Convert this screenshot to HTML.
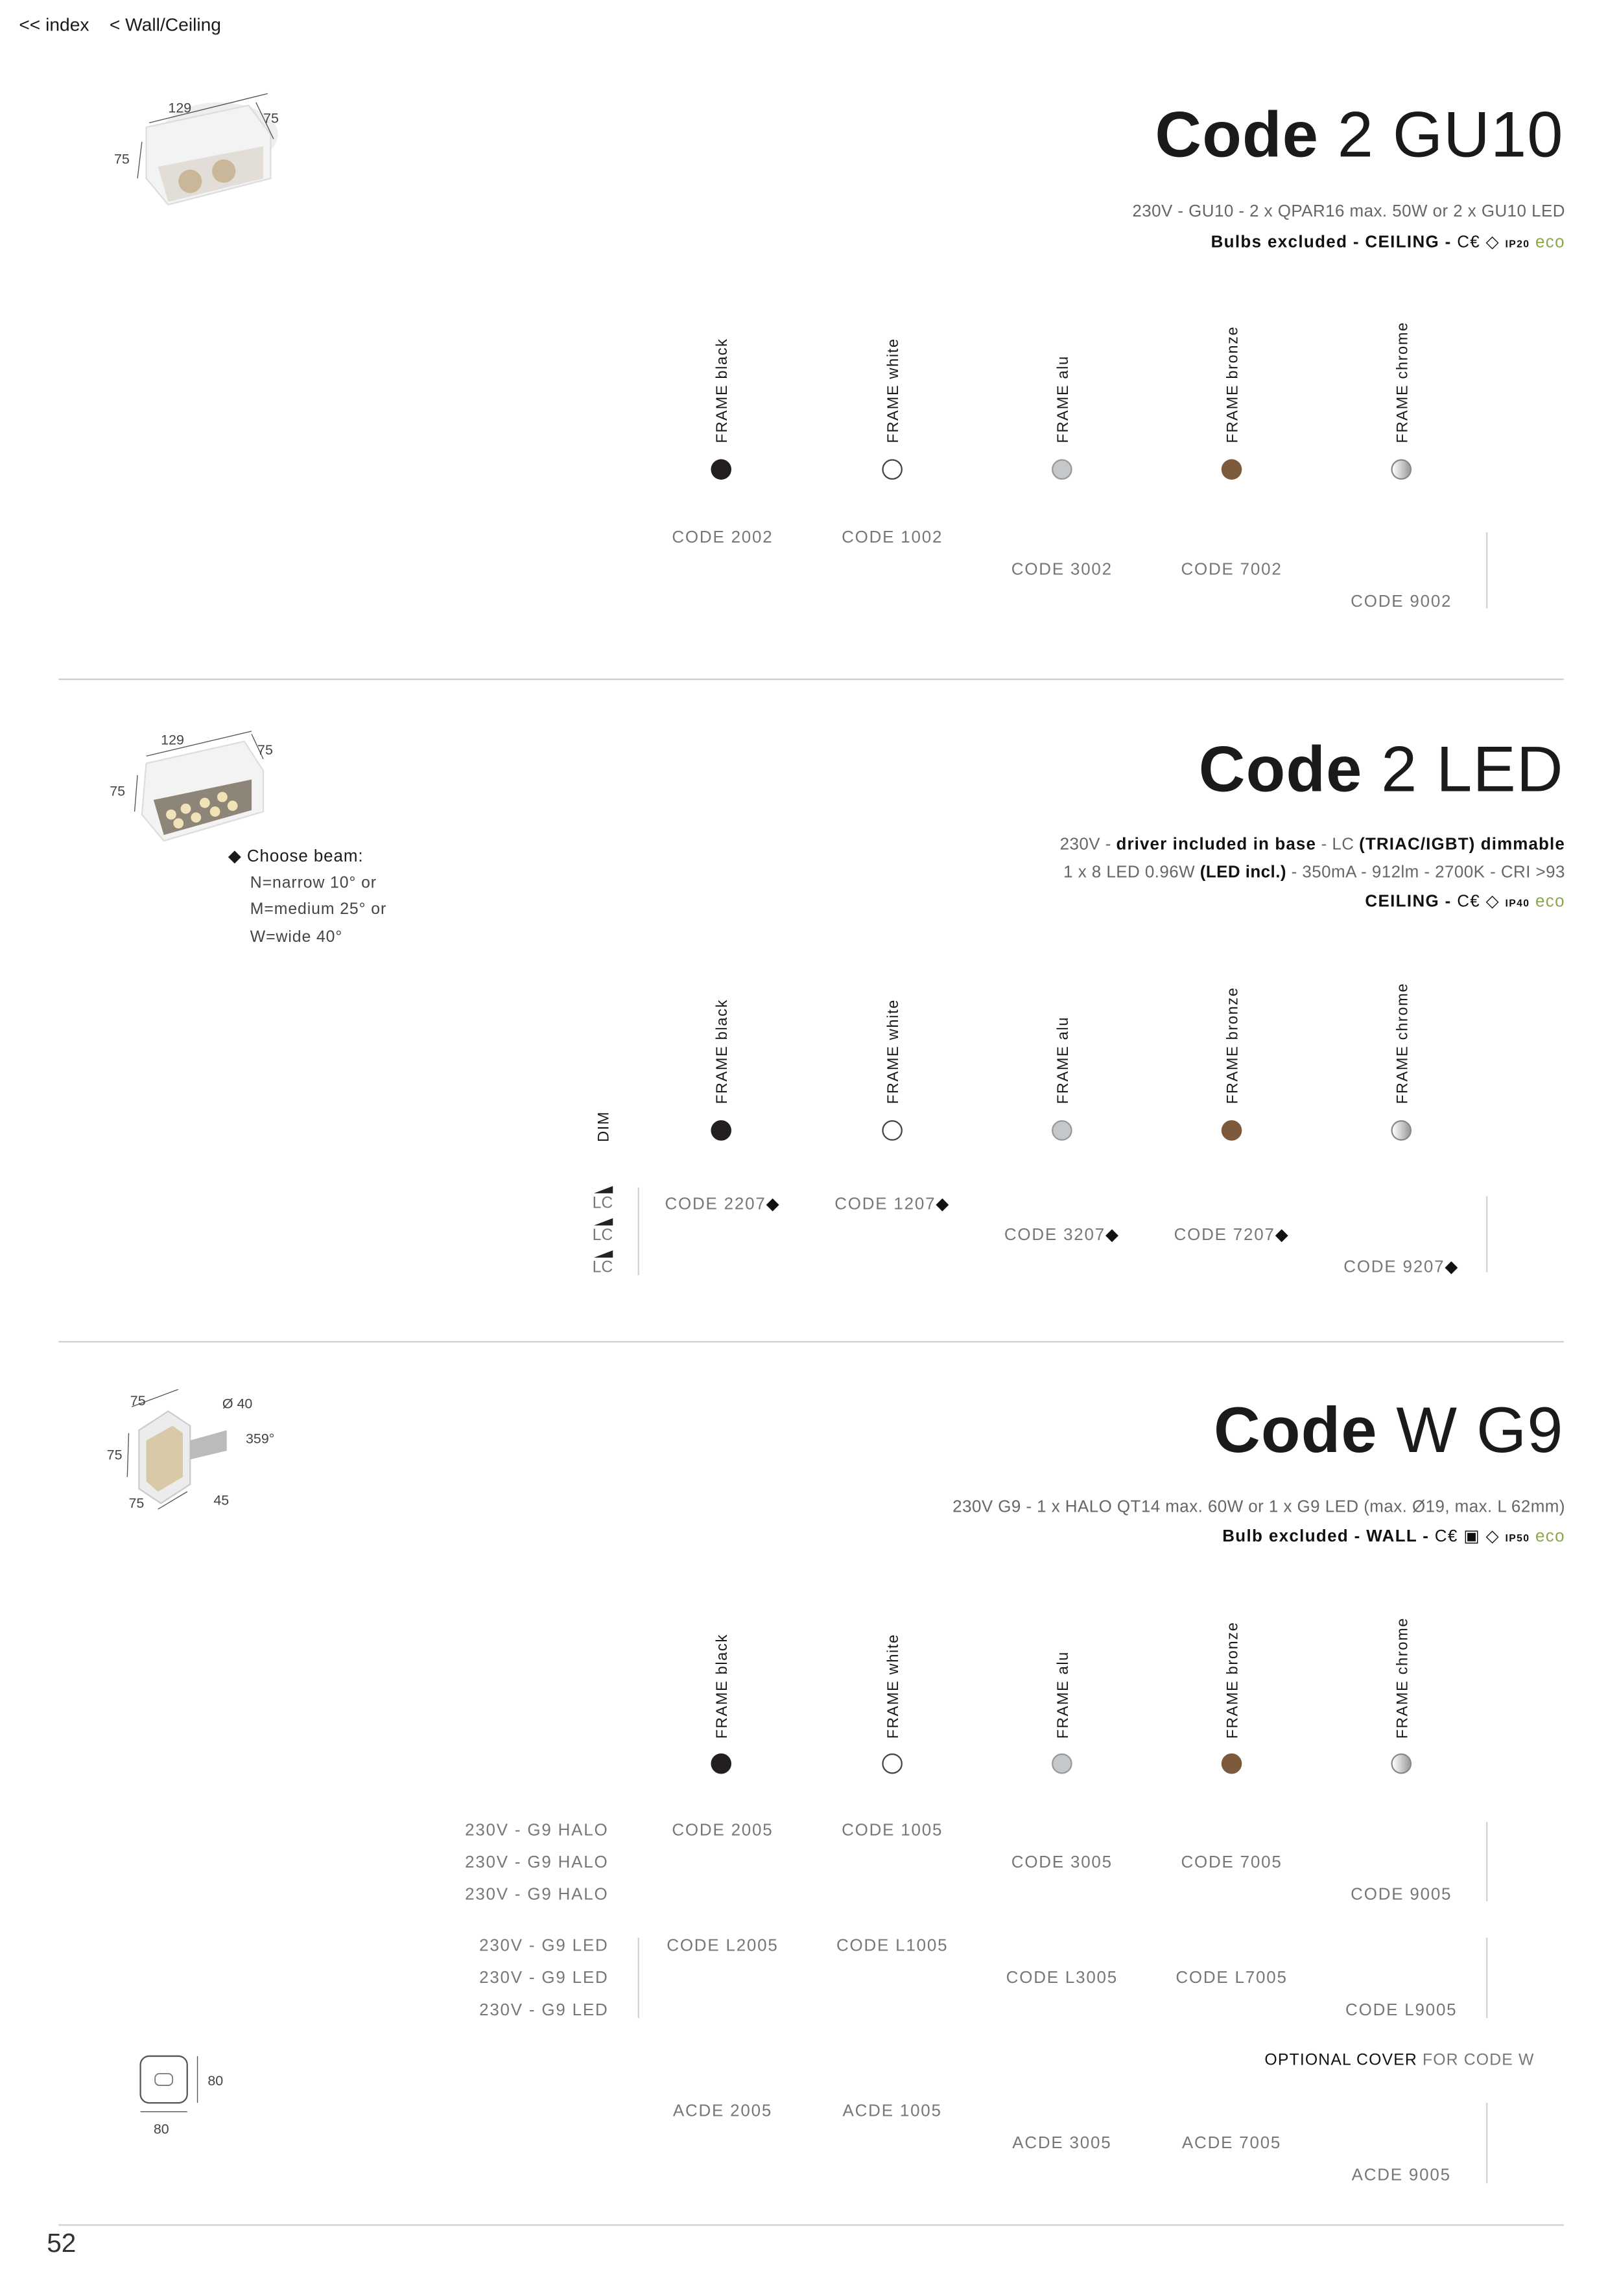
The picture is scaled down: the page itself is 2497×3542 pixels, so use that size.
<!DOCTYPE html>
<html><head><meta charset="utf-8"><style>
html,body{margin:0;padding:0;background:#fff}
body{width:2497px;height:3532px;overflow:hidden;position:relative}
#p{position:absolute;left:0;top:0;width:1110px;height:1570px;transform:scale(2.256);transform-origin:0 0;font-family:"Liberation Sans",sans-serif;color:#1a1a1a}
.a{position:absolute;white-space:nowrap}
.c{transform:translate(-50%,-50%)}
.r{transform:translate(-100%,-50%);text-align:right}
.code{font-size:11.5px;color:#777;letter-spacing:.8px}
.fr{position:absolute;font-size:10.5px;letter-spacing:.7px;transform-origin:0 0;transform:rotate(-90deg);white-space:nowrap}
.dot{position:absolute;width:14px;height:14px;border-radius:50%;transform:translate(-50%,-50%);box-sizing:border-box}
.hr{position:absolute;left:40px;width:1029px;height:1px;background:#cfcfcf}
.vl{position:absolute;width:1px;background:#d0d0d0}
.t{font-size:44px;letter-spacing:.5px}
.t b{font-weight:bold}
.sp{font-size:11.5px;color:#666;letter-spacing:.2px}
.sb{font-size:11.5px;font-weight:bold;color:#111;letter-spacing:.6px}
.g{font-size:10px;color:#444}
</style></head><body><div id="p">
<div class="a" style="left:13px;top:10px;font-size:12.5px">&lt;&lt; index &nbsp;&nbsp; &lt; Wall/Ceiling</div>

<svg class="a" style="left:75px;top:62px" width="125" height="95">
<ellipse cx="75" cy="30" rx="40" ry="22" fill="#eee"/>
<path d="M25 25 L95 10 L110 30 L110 60 L40 78 L25 60Z" fill="#f3f3f3" stroke="#ddd"/>
<path d="M33 52 L105 38 L105 60 L40 76Z" fill="#e2ddd6"/>
<circle cx="55" cy="62" r="8" fill="#c9b79a"/><circle cx="78" cy="55" r="8" fill="#c9b79a"/>
<line x1="27" y1="22" x2="108" y2="2" stroke="#555" stroke-width=".6"/>
<line x1="100" y1="8" x2="112" y2="33" stroke="#555" stroke-width=".6"/>
<line x1="22" y1="35" x2="19" y2="60" stroke="#555" stroke-width=".6"/>
<text x="40" y="15" font-size="9.5" fill="#444" font-family="Liberation Sans">129</text>
<text x="105" y="22" font-size="9.5" fill="#444" font-family="Liberation Sans">75</text>
<text x="3" y="50" font-size="9.5" fill="#444" font-family="Liberation Sans">75</text>
</svg>

<div class="a t" style="right:41px;top:68px"><b>Code</b> 2 GU10</div>
<div class="a sp" style="right:40px;top:139px">230V - GU10 - 2 x QPAR16 max. 50W or 2 x GU10 LED</div>
<div class="a sb" style="right:40px;top:158px">Bulbs excluded - CEILING - <span style="font-weight:normal">C€ ◇</span> <span style="font-size:7px">IP20</span> <span style="color:#8aa84a;font-weight:normal">eco</span></div>

<div class="fr" style="left:488px;top:303px">FRAME black</div>
<div class="fr" style="left:605px;top:303px">FRAME white</div>
<div class="fr" style="left:721px;top:303px">FRAME alu</div>
<div class="fr" style="left:837px;top:303px">FRAME bronze</div>
<div class="fr" style="left:953px;top:303px">FRAME chrome</div>
<div class="dot" style="left:493px;top:321px;background:#231f20"></div>
<div class="dot" style="left:610px;top:321px;border:1px solid #444"></div>
<div class="dot" style="left:726px;top:321px;background:#c5c8cb;border:1px solid #999"></div>
<div class="dot" style="left:842px;top:321px;background:#7d5a3c"></div>
<div class="dot" style="left:958px;top:321px;background:linear-gradient(90deg,#fff,#999);border:1px solid #888"></div>

<div class="a c code" style="left:494px;top:368px">CODE 2002</div>
<div class="a c code" style="left:610px;top:368px">CODE 1002</div>
<div class="a c code" style="left:726px;top:390px">CODE 3002</div>
<div class="a c code" style="left:842px;top:390px">CODE 7002</div>
<div class="a c code" style="left:958px;top:412px">CODE 9002</div>
<div class="vl" style="left:1016px;top:364px;height:52px"></div>
<div class="hr" style="top:464px"></div>

<svg class="a" style="left:72px;top:497px" width="125" height="90">
<path d="M28 25 L95 10 L108 30 L108 58 L40 78 L25 60Z" fill="#f3f3f3" stroke="#ddd"/>
<path d="M33 50 L100 36 L100 57 L40 74Z" fill="#8d8577"/>
<g fill="#f1e2b8"><circle cx="45" cy="60" r="3.5"/><circle cx="55" cy="56" r="3.5"/><circle cx="68" cy="52" r="3.5"/><circle cx="80" cy="48" r="3.5"/><circle cx="50" cy="66" r="3.5"/><circle cx="62" cy="62" r="3.5"/><circle cx="75" cy="58" r="3.5"/><circle cx="87" cy="54" r="3.5"/></g>
<line x1="28" y1="20" x2="100" y2="3" stroke="#555" stroke-width=".6"/>
<line x1="100" y1="5" x2="108" y2="22" stroke="#555" stroke-width=".6"/>
<line x1="22" y1="33" x2="20" y2="58" stroke="#555" stroke-width=".6"/>
<text x="38" y="12" font-size="9.5" fill="#444" font-family="Liberation Sans">129</text>
<text x="104" y="19" font-size="9.5" fill="#444" font-family="Liberation Sans">75</text>
<text x="3" y="47" font-size="9.5" fill="#444" font-family="Liberation Sans">75</text>
</svg>
<div class="a" style="left:156px;top:578px;font-size:11.5px;letter-spacing:.4px">◆ Choose beam:</div>
<div class="a g" style="left:171px;top:598px;font-size:11px;letter-spacing:.4px">N=narrow 10° or</div>
<div class="a g" style="left:171px;top:616px;font-size:11px;letter-spacing:.4px">M=medium 25° or</div>
<div class="a g" style="left:171px;top:635px;font-size:11px;letter-spacing:.4px">W=wide 40°</div>

<div class="a t" style="right:41px;top:502px"><b>Code</b> 2 LED</div>
<div class="a sp" style="right:40px;top:572px">230V - <b style="color:#111;letter-spacing:.5px">driver included in base</b> - LC <b style="color:#111;letter-spacing:.5px">(TRIAC/IGBT) dimmable</b></div>
<div class="a sp" style="right:40px;top:591px">1 x 8 LED 0.96W <b style="color:#111">(LED incl.)</b> - 350mA - 912lm - 2700K - CRI &gt;93</div>
<div class="a sb" style="right:40px;top:609px">CEILING - <span style="font-weight:normal">C€ ◇</span> <span style="font-size:7px">IP40</span> <span style="color:#8aa84a;font-weight:normal">eco</span></div>

<div class="fr" style="left:407px;top:781px">DIM</div>
<div class="fr" style="left:488px;top:755px">FRAME black</div>
<div class="fr" style="left:605px;top:755px">FRAME white</div>
<div class="fr" style="left:721px;top:755px">FRAME alu</div>
<div class="fr" style="left:837px;top:755px">FRAME bronze</div>
<div class="fr" style="left:953px;top:755px">FRAME chrome</div>
<div class="dot" style="left:493px;top:773px;background:#231f20"></div>
<div class="dot" style="left:610px;top:773px;border:1px solid #444"></div>
<div class="dot" style="left:726px;top:773px;background:#c5c8cb;border:1px solid #999"></div>
<div class="dot" style="left:842px;top:773px;background:#7d5a3c"></div>
<div class="dot" style="left:958px;top:773px;background:linear-gradient(90deg,#fff,#999);border:1px solid #888"></div>

<div class="a" style="left:406px;top:811px;width:0;height:0;border-left:13px solid transparent;border-bottom:5px solid #222"></div>
<div class="a c code" style="left:412px;top:823px;font-size:11px;letter-spacing:0">LC</div>
<div class="a" style="left:406px;top:833px;width:0;height:0;border-left:13px solid transparent;border-bottom:5px solid #222"></div>
<div class="a c code" style="left:412px;top:845px;font-size:11px;letter-spacing:0">LC</div>
<div class="a" style="left:406px;top:855px;width:0;height:0;border-left:13px solid transparent;border-bottom:5px solid #222"></div>
<div class="a c code" style="left:412px;top:867px;font-size:11px;letter-spacing:0">LC</div>
<div class="vl" style="left:436px;top:812px;height:60px"></div>
<div class="a c code" style="left:494px;top:823px">CODE 2207<span style="color:#111">◆</span></div>
<div class="a c code" style="left:610px;top:823px">CODE 1207<span style="color:#111">◆</span></div>
<div class="a c code" style="left:726px;top:844px">CODE 3207<span style="color:#111">◆</span></div>
<div class="a c code" style="left:842px;top:844px">CODE 7207<span style="color:#111">◆</span></div>
<div class="a c code" style="left:958px;top:866px">CODE 9207<span style="color:#111">◆</span></div>
<div class="vl" style="left:1016px;top:818px;height:52px"></div>
<div class="hr" style="top:917px"></div>

<svg class="a" style="left:70px;top:950px" width="130" height="85">
<path d="M25 28 L45 15 L60 25 L60 65 L40 78 L25 68Z" fill="#ececec" stroke="#ccc"/>
<path d="M30 35 L48 25 L55 30 L55 60 L38 70 L30 63Z" fill="#d8c9a8"/>
<path d="M60 35 L85 28 L85 42 L60 48Z" fill="#bbb"/>
<line x1="20" y1="12" x2="52" y2="0" stroke="#555" stroke-width=".6"/>
<line x1="18" y1="30" x2="17" y2="60" stroke="#555" stroke-width=".6"/>
<line x1="38" y1="82" x2="58" y2="70" stroke="#555" stroke-width=".6"/>
<text x="19" y="11" font-size="9.5" fill="#444" font-family="Liberation Sans">75</text>
<text x="3" y="48" font-size="9.5" fill="#444" font-family="Liberation Sans">75</text>
<text x="18" y="81" font-size="9.5" fill="#444" font-family="Liberation Sans">75</text>
<text x="76" y="79" font-size="9.5" fill="#444" font-family="Liberation Sans">45</text>
<text x="82" y="13" font-size="9.5" fill="#444" font-family="Liberation Sans">Ø 40</text>
<text x="98" y="37" font-size="9.5" fill="#444" font-family="Liberation Sans">359°</text>
</svg>

<div class="a t" style="right:41px;top:954px"><b>Code</b> W G9</div>
<div class="a sp" style="right:40px;top:1025px">230V G9 - 1 x HALO QT14 max. 60W or 1 x G9 LED (max. Ø19, max. L 62mm)</div>
<div class="a sb" style="right:40px;top:1043px">Bulb excluded - WALL - <span style="font-weight:normal">C€ ▣ ◇</span> <span style="font-size:7px">IP50</span> <span style="color:#8aa84a;font-weight:normal">eco</span></div>

<div class="fr" style="left:488px;top:1189px">FRAME black</div>
<div class="fr" style="left:605px;top:1189px">FRAME white</div>
<div class="fr" style="left:721px;top:1189px">FRAME alu</div>
<div class="fr" style="left:837px;top:1189px">FRAME bronze</div>
<div class="fr" style="left:953px;top:1189px">FRAME chrome</div>
<div class="dot" style="left:493px;top:1206px;background:#231f20"></div>
<div class="dot" style="left:610px;top:1206px;border:1px solid #444"></div>
<div class="dot" style="left:726px;top:1206px;background:#c5c8cb;border:1px solid #999"></div>
<div class="dot" style="left:842px;top:1206px;background:#7d5a3c"></div>
<div class="dot" style="left:958px;top:1206px;background:linear-gradient(90deg,#fff,#999);border:1px solid #888"></div>

<div class="a r code" style="left:416px;top:1252px">230V - G9 HALO</div>
<div class="a r code" style="left:416px;top:1274px">230V - G9 HALO</div>
<div class="a r code" style="left:416px;top:1296px">230V - G9 HALO</div>
<div class="a c code" style="left:494px;top:1252px">CODE 2005</div>
<div class="a c code" style="left:610px;top:1252px">CODE 1005</div>
<div class="a c code" style="left:726px;top:1274px">CODE 3005</div>
<div class="a c code" style="left:842px;top:1274px">CODE 7005</div>
<div class="a c code" style="left:958px;top:1296px">CODE 9005</div>
<div class="vl" style="left:1016px;top:1246px;height:54px"></div>

<div class="a r code" style="left:416px;top:1331px">230V - G9 LED</div>
<div class="a r code" style="left:416px;top:1353px">230V - G9 LED</div>
<div class="a r code" style="left:416px;top:1375px">230V - G9 LED</div>
<div class="vl" style="left:436px;top:1325px;height:55px"></div>
<div class="a c code" style="left:494px;top:1331px">CODE L2005</div>
<div class="a c code" style="left:610px;top:1331px">CODE L1005</div>
<div class="a c code" style="left:726px;top:1353px">CODE L3005</div>
<div class="a c code" style="left:842px;top:1353px">CODE L7005</div>
<div class="a c code" style="left:958px;top:1375px">CODE L9005</div>
<div class="vl" style="left:1016px;top:1325px;height:55px"></div>

<svg class="a" style="left:90px;top:1402px" width="70" height="62">
<rect x="6" y="4" width="32" height="32" rx="6" fill="#fff" stroke="#555" stroke-width="1"/>
<rect x="16" y="16" width="12" height="8" rx="3" fill="none" stroke="#777" stroke-width=".8"/>
<line x1="45" y1="4" x2="45" y2="36" stroke="#555" stroke-width=".6"/>
<line x1="6" y1="42" x2="38" y2="42" stroke="#555" stroke-width=".6"/>
<text x="52" y="24" font-size="9.5" fill="#444" font-family="Liberation Sans">80</text>
<text x="15" y="57" font-size="9.5" fill="#444" font-family="Liberation Sans">80</text>
</svg>
<div class="a" style="right:61px;top:1403px;font-size:11px;color:#111;letter-spacing:.5px">OPTIONAL COVER <span style="color:#777">FOR CODE W</span></div>
<div class="a c code" style="left:494px;top:1444px">ACDE 2005</div>
<div class="a c code" style="left:610px;top:1444px">ACDE 1005</div>
<div class="a c code" style="left:726px;top:1466px">ACDE 3005</div>
<div class="a c code" style="left:842px;top:1466px">ACDE 7005</div>
<div class="a c code" style="left:958px;top:1488px">ACDE 9005</div>
<div class="vl" style="left:1016px;top:1438px;height:55px"></div>

<div class="hr" style="top:1521px"></div>
<div class="a" style="left:32px;top:1524px;font-size:18px;color:#333">52</div>
</div></body></html>
